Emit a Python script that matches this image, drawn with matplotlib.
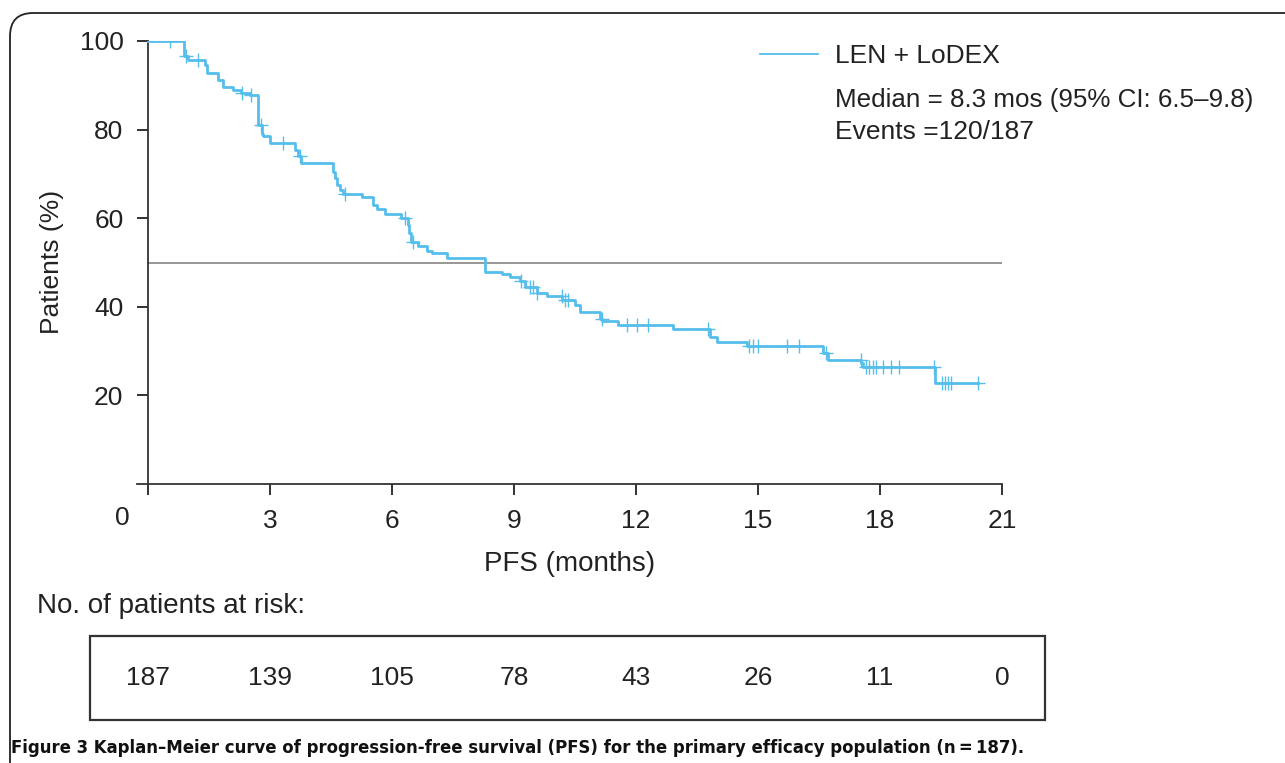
import numpy as np
import matplotlib.pyplot as plt
from matplotlib.patches import FancyBboxPatch, Rectangle
import matplotlib.transforms as mtransforms

plt.rcParams['font.family'] = ['Liberation Sans', 'DejaVu Sans']

# Kaplan-Meier steps (months, % patients)
step_times = [0, 0.88, 0.98, 1.40, 1.45, 1.72, 1.84, 2.07, 2.27, 2.50,
              2.70, 2.79, 2.83, 3.00, 3.60, 3.67, 3.75, 4.55, 4.60, 4.65,
              4.72, 4.80, 5.26, 5.53, 5.63, 5.83, 6.22, 6.38, 6.42, 6.45,
              6.63, 6.86, 6.98, 7.35, 8.29, 8.70, 8.90, 9.15, 9.27, 9.56,
              9.81, 10.18, 10.50, 10.62, 11.11, 11.17, 11.56, 12.91, 13.82, 13.99,
              14.73, 16.60, 16.72, 17.53, 17.58, 19.35]
step_surv = [100, 96.6, 95.7, 94.6, 92.7, 91.2, 89.6, 89.0, 88.3, 87.7,
             81.0, 79.0, 78.5, 77.0, 75.5, 74.0, 72.5, 70.5, 69.0, 67.5,
             66.4, 65.5, 64.8, 63.0, 62.1, 61.0, 60.1, 58.5, 56.7, 54.6,
             53.7, 52.7, 52.2, 51.0, 47.9, 47.5, 46.8, 45.8, 44.5, 43.1,
             42.4, 41.6, 40.3, 38.8, 37.3, 36.7, 35.8, 34.9, 33.2, 32.1,
             31.1, 29.6, 28.0, 27.4, 26.5, 22.9]
end_time = 20.41
censor_times = [0.54, 0.93, 1.23, 2.31, 2.53, 2.78, 3.32, 3.74, 4.84, 6.32,
                6.52, 9.16, 9.39, 9.47, 9.57, 10.17, 10.25, 10.33, 11.16, 11.78,
                12.02, 12.29, 13.77, 14.78, 14.88, 15.00, 15.71, 16.00, 16.67, 17.52,
                17.65, 17.73, 17.82, 17.89, 18.07, 18.27, 18.47, 19.33, 19.52, 19.60,
                19.67, 19.75, 20.41]

x_ticks = [0, 3, 6, 9, 12, 15, 18, 21]
y_ticks = [20, 40, 60, 80, 100]
at_risk = [187, 139, 105, 78, 43, 26, 11, 0]

blue = '#55BEEB'
ink = '#222222'
fs = 19

fig = plt.figure(figsize=(12.85, 7.63), dpi=100)
W, H = 1285, 763

# rounded frame round the whole figure (right and bottom edges run off the page)
frame = FancyBboxPatch((10 / W, -0.05), 1.2, 1 - 13 / H + 0.05,
                       boxstyle='round,pad=0,rounding_size=0.018',
                       transform=fig.transFigure, fill=False,
                       edgecolor=ink, linewidth=1.3, mutation_aspect=W / H)
fig.patches.append(frame)

ax = fig.add_axes([137 / W, 1 - 484 / H, 865 / W, 443 / H])
ax.set_xlim(-0.28, 21)
ax.set_ylim(0, 100)

xs = list(step_times) + [end_time]
ys = list(step_surv) + [step_surv[-1]]
ax.step(xs, ys, where='post', color=blue, lw=2.0, zorder=3)

idx = np.searchsorted(step_times, censor_times, side='right') - 1
cy = np.array(step_surv)[idx]
ax.plot(censor_times, cy, linestyle='none', marker='+', color=blue,
        markersize=10, markeredgewidth=1.0, zorder=3)

# median line
ax.plot([0, 21], [50, 50], color='#7a7a7a', lw=1.1, zorder=2)

for s in ['top', 'right']:
    ax.spines[s].set_visible(False)
ax.spines['left'].set_position(('data', 0))
ax.spines['left'].set_bounds(0, 100)
ax.spines['bottom'].set_bounds(-0.28, 21)
for s in ['left', 'bottom']:
    ax.spines[s].set_color('#333333')
    ax.spines[s].set_linewidth(1.3)

ax.set_xticks(x_ticks)
ax.set_xticklabels([''] + [str(t) for t in x_ticks[1:]])
ax.set_yticks(y_ticks)
ax.tick_params(axis='both', labelsize=fs, colors=ink, length=8, width=1.3)
ax.tick_params(axis='x', pad=10)
ax.tick_params(axis='y', pad=10)
ax.text(-0.65, -7.6, '0', fontsize=fs, color=ink, ha='center', va='center')

ax.set_xlabel('PFS (months)', fontsize=20, color=ink, labelpad=13)
fig.text(52 / W, 1 - 262 / H, 'Patients (%)', fontsize=fs, color=ink,
         rotation=90, ha='center', va='center')

leg = ax.legend(['LEN + LoDEX'], loc='center left',
                bbox_to_anchor=(760 / W, 1 - 56 / H), bbox_transform=fig.transFigure,
                frameon=False, fontsize=fs, handlelength=2.2, handletextpad=0.65,
                borderpad=0, borderaxespad=0)
for t in leg.get_texts():
    t.set_color(ink)
for ln in leg.get_lines():
    ln.set_linewidth(1.3)
fig.text(835 / W, 1 - 100 / H, 'Median = 8.3 mos (95% CI: 6.5\u20139.8)', fontsize=18.7,
         color=ink, ha='left', va='center')
fig.text(835 / W, 1 - 132 / H, 'Events =120/187', fontsize=fs,
         color=ink, ha='left', va='center')

# number at risk
fig.text(37 / W, 1 - 606 / H, 'No. of patients at risk:', fontsize=20,
         color=ink, ha='left', va='center')
box = Rectangle((90 / W, 1 - 720 / H), 955 / W, 84 / H, transform=fig.transFigure,
                fill=False, edgecolor='#333333', linewidth=1.6)
fig.patches.append(box)
trans = mtransforms.blended_transform_factory(ax.transData, fig.transFigure)
for t, n in zip(x_ticks, at_risk):
    fig.text(t, 1 - 678 / H, str(n), fontsize=fs, color=ink,
             ha='center', va='center', transform=trans)

fig.text(11 / W, 1 - 748 / H,
         'Figure 3 Kaplan\u2013Meier curve of progression-free survival (PFS) for the primary efficacy population (n\u2009=\u2009187).',
         fontsize=13.2, fontweight='bold', fontstretch='condensed', family='DejaVu Sans',
         color='#111111', ha='left', va='center')

fig.savefig('out.png', dpi=100)
